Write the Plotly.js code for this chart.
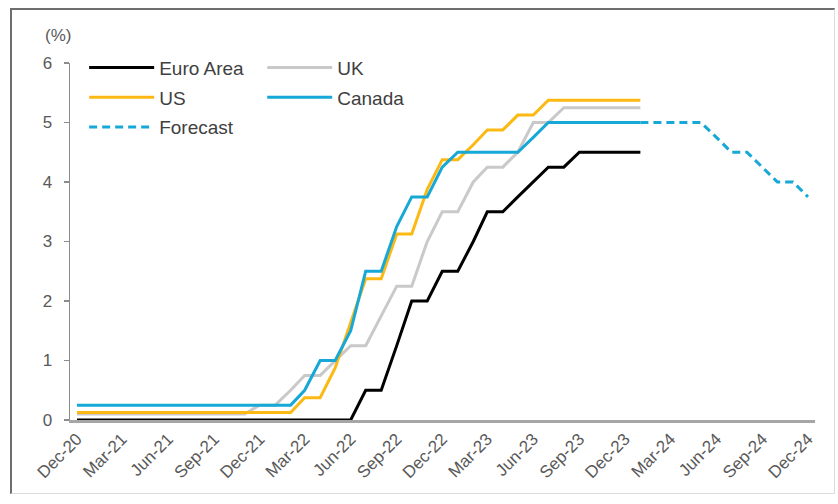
<!DOCTYPE html>
<html>
<head>
<meta charset="utf-8">
<script src="https://cdn.plot.ly/plotly-3.0.1.min.js"></script>
<style>
  html, body { margin: 0; padding: 0; background: #ffffff; }
  #wrap { position: relative; width: 838px; height: 504px; }
  #chart { width: 838px; height: 504px; }
  #frame {
    position: absolute; left: 10px; top: 8px; width: 825px; height: 486px;
    border-top: 2px solid #6e6e6e; border-left: 2px solid #6e6e6e;
    border-right: 1px solid #dcdcdc; border-bottom: 1px solid #dcdcdc;
    box-sizing: border-box; pointer-events: none;
  }
</style>
</head>
<body>
<div id="wrap">
  <div id="chart"></div>
  <div id="frame"></div>
</div>
<script>
// Policy rates, month-end, Dec-20 to Jan-24 (38 months)
const euroArea = [0,0,0,0,0,0,0,0,0,0,0,0,0,0,0,0,0,0,0,
                  0.5,0.5,1.25,2.0,2.0,2.5,2.5,3.0,3.5,3.5,3.75,4.0,4.25,4.25,4.5,4.5,4.5,4.5,4.5];
const uk = [0.1,0.1,0.1,0.1,0.1,0.1,0.1,0.1,0.1,0.1,0.1,0.1,
            0.25,0.25,0.5,0.75,0.75,1.0,1.25,1.25,1.75,2.25,2.25,3.0,3.5,3.5,4.0,4.25,4.25,4.5,5.0,5.0,5.25,5.25,5.25,5.25,5.25,5.25];
const us = [0.125,0.125,0.125,0.125,0.125,0.125,0.125,0.125,0.125,0.125,0.125,0.125,0.125,0.125,0.125,
            0.375,0.375,0.875,1.625,2.375,2.375,3.125,3.125,3.875,4.375,4.375,4.625,4.875,4.875,5.125,5.125,5.375,5.375,5.375,5.375,5.375,5.375,5.375];
const canada = [0.25,0.25,0.25,0.25,0.25,0.25,0.25,0.25,0.25,0.25,0.25,0.25,0.25,0.25,0.25,
                0.5,1.0,1.0,1.5,2.5,2.5,3.25,3.75,3.75,4.25,4.5,4.5,4.5,4.5,4.5,4.75,5.0,5.0,5.0,5.0,5.0,5.0,5.0];
// Canada path, Jan-24 to Dec-24
const forecast = [5.0,5.0,5.0,5.0,5.0,4.75,4.5,4.5,4.25,4.0,4.0,3.75];

const histStart = [2020, 12];
const fcStart = [2024, 1];
const tickLabels = ["Dec-20","Mar-21","Jun-21","Sep-21","Dec-21","Mar-22","Jun-22","Sep-22",
                    "Dec-22","Mar-23","Jun-23","Sep-23","Dec-23","Mar-24","Jun-24","Sep-24","Dec-24"];

function monthSeries(start, n) {
  const out = [];
  let y = start[0], m = start[1];
  for (let i = 0; i < n; i++) {
    out.push(y + "-" + String(m).padStart(2, "0") + "-01");
    m++; if (m > 12) { m = 1; y++; }
  }
  return out;
}
const histDates = monthSeries(histStart, euroArea.length);
const fcDates = monthSeries(fcStart, forecast.length);
const tickDates = monthSeries(histStart, 49).filter((d, i) => i % 3 === 0);

const LW = 3;
const traces = [
  {name: "Euro Area", x: histDates, y: euroArea, line: {color: "#000000", width: LW}, legend: "legend", legendgroup: "a"},
  {name: "UK", x: histDates, y: uk, line: {color: "#c9c9c9", width: LW}, legend: "legend2", legendgroup: "b"},
  {name: "US", x: histDates, y: us, line: {color: "#fdb913", width: LW}, legend: "legend", legendgroup: "c"},
  {name: "Canada", x: histDates, y: canada, line: {color: "#16a8d6", width: LW}, legend: "legend2", legendgroup: "d"},
  {name: "Forecast", x: fcDates, y: forecast, line: {color: "#16a8d6", width: LW, dash: "8px,5px"}, legend: "legend", legendgroup: "e"}
].map(t => Object.assign({type: "scatter", mode: "lines", hoverinfo: "skip"}, t));

const legendBase = {
  orientation: "v", xanchor: "left", yanchor: "top", bgcolor: "rgba(0,0,0,0)",
  font: {family: "Liberation Sans, Arial, sans-serif", size: 19, color: "#404040"},
  itemwidth: 65, tracegroupgap: 2, traceorder: "grouped", itemclick: false
};

const layout = {
  width: 838, height: 504,
  margin: {l: 70, r: 23, t: 63, b: 84},
  paper_bgcolor: "#ffffff", plot_bgcolor: "#ffffff",
  font: {family: "Liberation Sans, Arial, sans-serif", size: 17, color: "#595959"},
  showlegend: true,
  legend: Object.assign({x: 0.019, y: 1.04}, legendBase),
  legend2: Object.assign({x: 0.258, y: 1.04}, legendBase),
  xaxis: {
    type: "date", range: ["2020-11-17", "2024-12-15"],
    tickvals: tickDates, ticktext: tickLabels, tickangle: -45,
    showgrid: false, zeroline: false, showline: true, linecolor: "#a6a6a6", linewidth: 2.5,
    ticks: "", tickfont: {size: 17, color: "#595959"}
  },
  yaxis: {
    range: [0, 6], tickvals: [0,1,2,3,4,5,6], showgrid: false, zeroline: false,
    showline: true, linecolor: "#8c8c8c", linewidth: 1.5,
    ticks: "outside", ticklen: 5, tickcolor: "#8c8c8c", tickwidth: 1.5,
    ticklabelstandoff: 8, tickfont: {size: 17, color: "#595959"}
  },
  annotations: [{
    text: "(%)", xref: "paper", yref: "paper", x: -0.016, y: 1.078,
    xanchor: "center", yanchor: "middle", showarrow: false,
    font: {size: 17, color: "#595959"}
  }]
};

Plotly.newPlot("chart", traces, layout, {staticPlot: true, displayModeBar: false});
</script>
</body>
</html>
